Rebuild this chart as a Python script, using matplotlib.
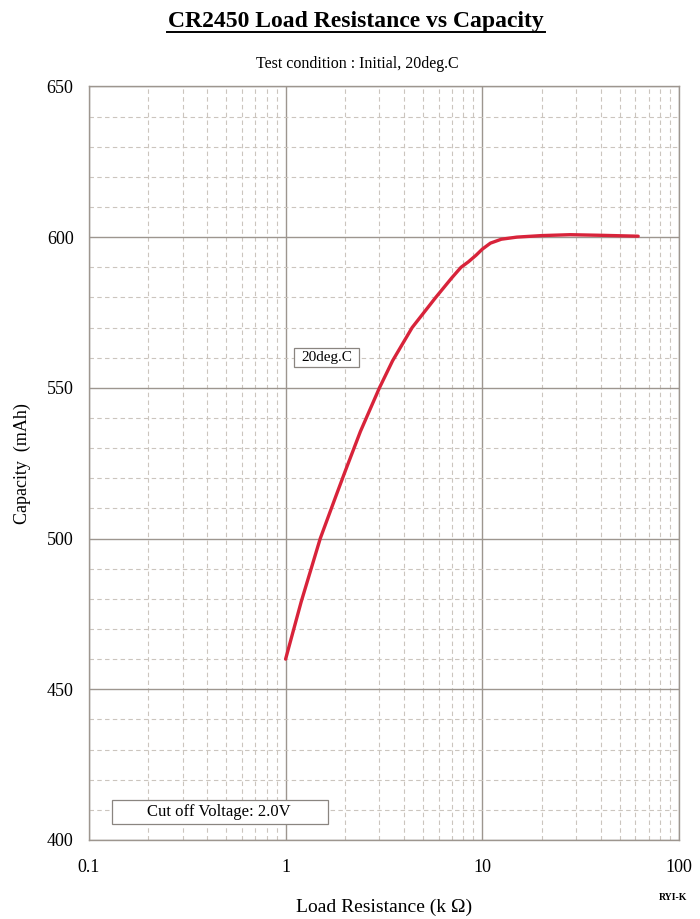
import numpy as np
import matplotlib
matplotlib.use("Agg")
import matplotlib.pyplot as plt
from matplotlib.lines import Line2D
from matplotlib.patches import Rectangle
from matplotlib.ticker import FixedLocator, NullFormatter

plt.rcParams['font.family'] = ['Liberation Serif', 'DejaVu Serif']

# data (load resistance in kOhm, capacity in mAh)
resistance = [1.0, 1.2, 1.5, 1.8, 2.0, 2.4, 3.0, 3.5, 4.4, 5.8, 7.0, 7.8, 8.5, 9.3, 10.0,
              11.0, 12.5, 15.0, 20.0, 28.0, 40.0, 62.0]
capacity = [460.0, 479.0, 500.0, 514.0, 522.0, 535.5, 550.0, 559.0, 570.0, 580.0, 586.5, 590.0,
            591.8, 594.0, 596.0, 598.0, 599.3, 600.0, 600.5, 600.8, 600.6, 600.3]

x_ticks = [0.1, 1, 10, 100]
x_tick_labels = ["0.1", "1", "10", "100"]
y_ticks = [400, 450, 500, 550, 600, 650]

MAJOR_GRID = '#9d968f'
MINOR_GRID = '#cbc5be'
BOX_EDGE = '#8a8580'
CURVE = '#d8233a'

fig = plt.figure(figsize=(7.0, 9.19), dpi=100)
ax = fig.add_axes([0.127, 0.086, 0.843, 0.820])

ax.set_xscale('log')
ax.set_xlim(0.1, 100)
ax.set_ylim(400, 650)

ax.xaxis.set_major_locator(FixedLocator(x_ticks))
ax.set_xticklabels(x_tick_labels)
minor_x = [m * d for d in (0.1, 1, 10) for m in range(2, 10)]
ax.xaxis.set_minor_locator(FixedLocator(minor_x))
ax.xaxis.set_minor_formatter(NullFormatter())
ax.set_yticks(y_ticks)
ax.yaxis.set_minor_locator(FixedLocator(list(range(400, 651, 10))))

ax.grid(which='major', color=MAJOR_GRID, linewidth=1.0, linestyle='-')
ax.grid(which='minor', color=MINOR_GRID, linewidth=0.8, linestyle=(0, (4, 3)))
ax.set_axisbelow(True)
ax.tick_params(which='both', length=0, labelsize=13)
ax.tick_params(axis='x', pad=14)
ax.tick_params(axis='y', pad=11)
for s in ax.spines.values():
    s.set_color(MAJOR_GRID)
    s.set_linewidth(1.0)

ax.plot(resistance, capacity, color=CURVE, linewidth=2.4, solid_capstyle='round',
        solid_joinstyle='round')

# annotation boxes (drawn as rectangles so the box can be wider than the text)
ax.add_patch(Rectangle((1.10, 556.8), 2.357 - 1.10, 563.1 - 556.8, facecolor='white',
                       edgecolor=BOX_EDGE, linewidth=0.9, zorder=3))
ax.text(1.62, 560.1, "20deg.C", fontsize=11, ha='center', va='center', zorder=4)
ax.add_patch(Rectangle((0.131, 405.3), 1.637 - 0.131, 413.3 - 405.3, facecolor='white',
                       edgecolor=BOX_EDGE, linewidth=0.9, zorder=3))
ax.text(0.46, 409.3, "Cut off Voltage: 2.0V", fontsize=12, ha='center', va='center', zorder=4)

ax.set_xlabel("Load Resistance (k Ω)", fontsize=14, labelpad=16)
ax.set_ylabel("Capacity  (mAh)", fontsize=13, labelpad=11)

fig.text(0.508, 0.977, "CR2450 Load Resistance vs Capacity", fontsize=17, fontweight='bold',
         ha='center', va='center')
fig.add_artist(Line2D([167 / 700, 545 / 700], [1 - 32 / 919, 1 - 32 / 919], color='black', linewidth=1.4))
fig.text(0.51, 1 - 64 / 919, "Test condition : Initial, 20deg.C", fontsize=11.5, ha='center', va='center')
fig.text(0.961, 1 - 897 / 919, "RYI-K", fontsize=7, fontweight='bold', ha='center', va='center')

fig.savefig("out.png", dpi=100, facecolor='white')
